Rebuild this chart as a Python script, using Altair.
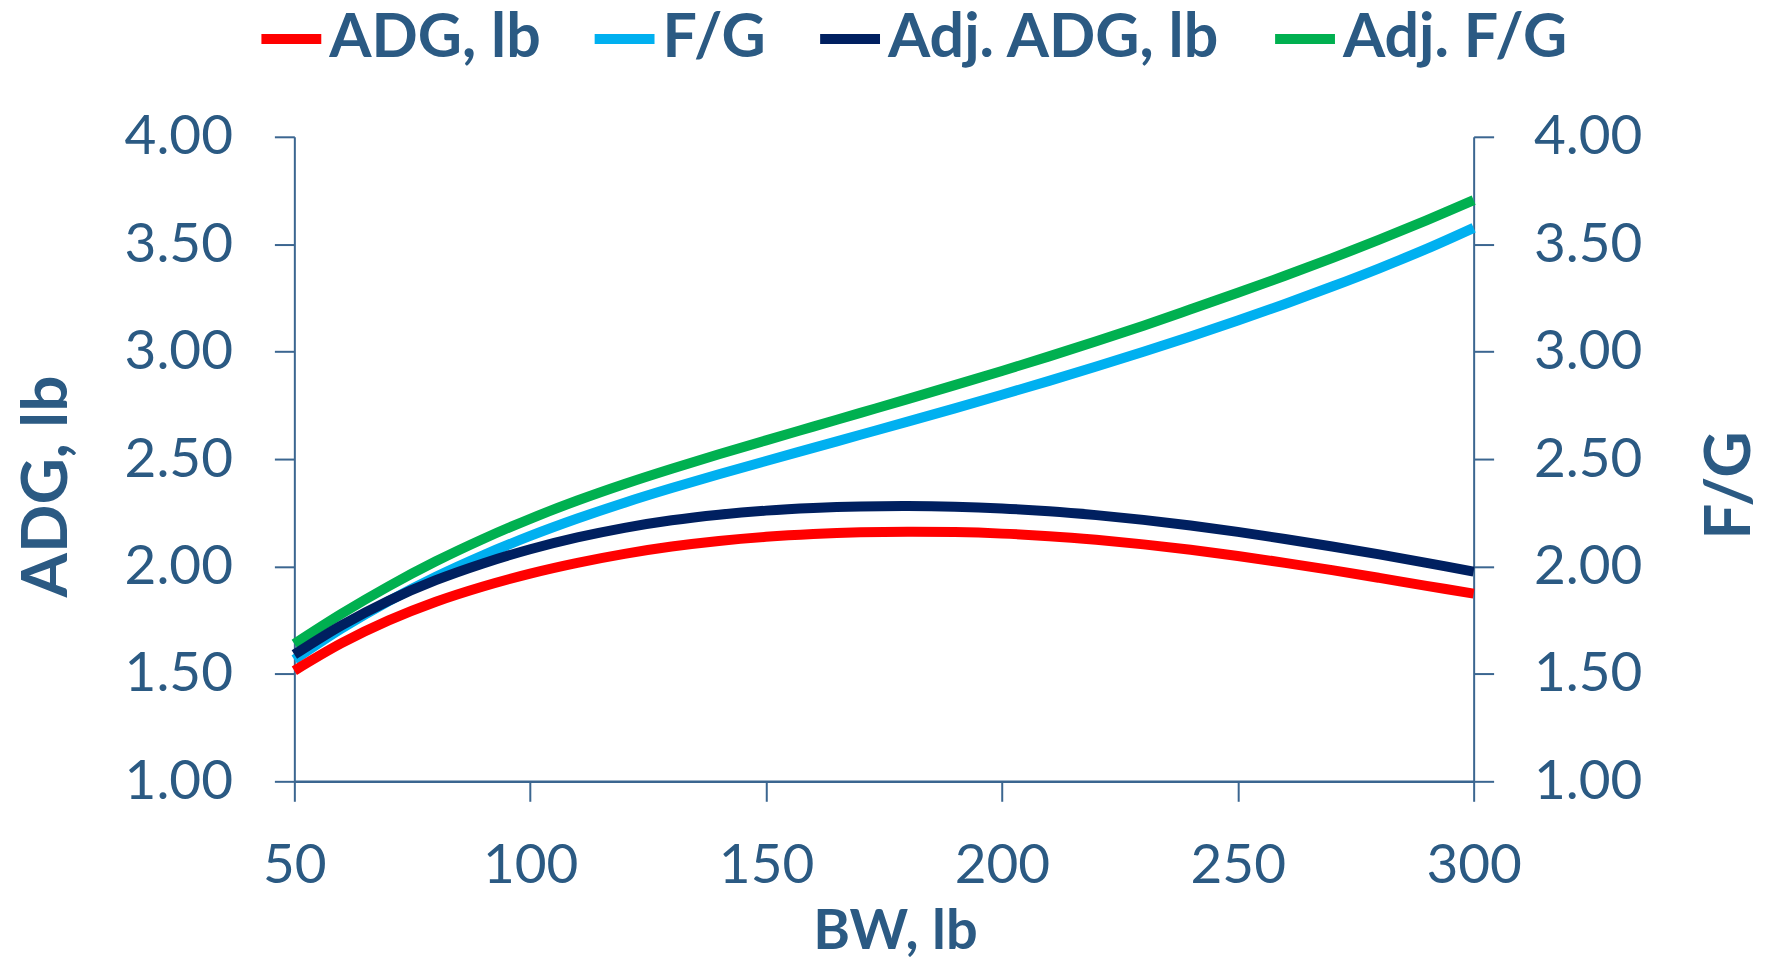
import altair as alt
import pandas as pd

# ---- data ----
bw = [50, 60, 70, 80, 90, 100, 110, 120, 130, 140, 150, 160, 170, 180, 190,
      200, 210, 220, 230, 240, 250, 260, 270, 280, 290, 300]

adg = [1.515, 1.643, 1.749, 1.836, 1.907, 1.967, 2.017, 2.059, 2.093, 2.119,
       2.138, 2.151, 2.159, 2.162, 2.160, 2.153, 2.141, 2.124, 2.103, 2.078,
       2.049, 2.017, 1.983, 1.947, 1.910, 1.874]

fg = [1.566, 1.711, 1.839, 1.952, 2.052, 2.142, 2.223, 2.297, 2.365, 2.429,
      2.491, 2.552, 2.613, 2.674, 2.736, 2.799, 2.864, 2.931, 3.000, 3.071,
      3.145, 3.222, 3.303, 3.388, 3.478, 3.576]

adj_adg = [1.590, 1.726, 1.841, 1.936, 2.014, 2.080, 2.135, 2.180, 2.215, 2.241,
           2.260, 2.272, 2.279, 2.281, 2.278, 2.270, 2.257, 2.239, 2.217, 2.191,
           2.161, 2.128, 2.093, 2.056, 2.017, 1.976]

adj_fg = [1.640, 1.780, 1.908, 2.024, 2.128, 2.222, 2.307, 2.384, 2.455, 2.522,
          2.587, 2.651, 2.715, 2.779, 2.844, 2.910, 2.978, 3.048, 3.121, 3.197,
          3.274, 3.353, 3.435, 3.521, 3.611, 3.705]

series_names = ["ADG, lb", "F/G", "Adj. ADG, lb", "Adj. F/G"]
series_colors = ["#FF0000", "#00B0F0", "#002060", "#00B050"]

y_ticks = [1.0, 1.5, 2.0, 2.5, 3.0, 3.5, 4.0]
x_ticks = [50, 100, 150, 200, 250, 300]

rows = []
for name, vals in zip(series_names, [adg, fg, adj_adg, adj_fg]):
    for xv, v in zip(bw, vals):
        rows.append({"BW": xv, "value": v, "series": name})
df = pd.DataFrame(rows)

TXT = "#2B5A83"
AX = "#3B6690"
FONT = "Lato"

color = alt.Color(
    "series:N",
    scale=alt.Scale(domain=series_names, range=series_colors),
    legend=alt.Legend(
        title=None, orient="none", direction="horizontal",
        legendX=-38, legendY=-133,
        symbolType="stroke", symbolSize=3600, symbolStrokeWidth=10,
        labelFont=FONT, labelFontWeight="bold", labelFontSize=61,
        labelColor=TXT, columnPadding=34, labelOffset=3, padding=0,
        labelLimit=0, rowPadding=0,
    ),
)

x_enc = alt.X(
    "BW:Q",
    scale=alt.Scale(domain=[50, 300], nice=False, zero=False),
    axis=alt.Axis(
        values=x_ticks, format="d", title="BW, lb",
        labelFont=FONT, labelFontSize=55, labelColor=TXT, labelPadding=38,
        labelFlush=False, labelOverlap=False,
        tickSize=20, tickWidth=2, tickColor=AX,
        domainColor=AX, domainWidth=2.5, grid=False,
        titleFont=FONT, titleFontWeight="bold", titleFontSize=56,
        titleColor=TXT, titleX=602, titleY=168, titleAlign="center",
        titleBaseline="alphabetic",
    ),
)


def y_axis(orient, title, tx, ty, lpad):
    return alt.Axis(
        orient=orient, values=y_ticks, format=".2f", title=title,
        labelFont=FONT, labelFontSize=55, labelColor=TXT, labelPadding=lpad,
        labelOverlap=False, labelFlush=False,
        tickSize=20, tickWidth=2, tickColor=AX,
        domainColor=AX, domainWidth=2, grid=False,
        titleFont=FONT, titleFontWeight="bold", titleFontSize=64,
        titleColor=TXT, titleAngle=270, titleX=tx, titleY=ty,
        titleAlign="center", titleBaseline="middle",
    )


base = alt.Chart(df)

right_layer = base.transform_filter(
    alt.FieldOneOfPredicate(field="series", oneOf=["F/G", "Adj. F/G"])
).mark_line(strokeWidth=10, interpolate="catmull-rom").encode(
    x=x_enc,
    y=alt.Y("value:Q", scale=alt.Scale(domain=[1, 4], nice=False, zero=False),
            axis=y_axis("right", "F/G", 257, 349, 40)),
    color=color,
    detail="series:N",
)

left_layer = base.transform_filter(
    alt.FieldOneOfPredicate(field="series", oneOf=["ADG, lb", "Adj. ADG, lb"])
).mark_line(strokeWidth=10, interpolate="catmull-rom").encode(
    x=x_enc,
    y=alt.Y("value:Q", scale=alt.Scale(domain=[1, 4], nice=False, zero=False),
            axis=y_axis("left", "ADG, lb", -247, 350, 42)),
    color=color,
    detail="series:N",
)

chart = alt.layer(right_layer, left_layer).resolve_scale(
    y="independent"
).properties(
    width=1182, height=646,
    padding={"left": 287, "top": 128, "right": 285, "bottom": 180},
    autosize=alt.AutoSizeParams(type="none"),
    background="white",
).configure_view(stroke=None)

chart.save("out.html", embed_options={"renderer": "svg", "actions": False})
